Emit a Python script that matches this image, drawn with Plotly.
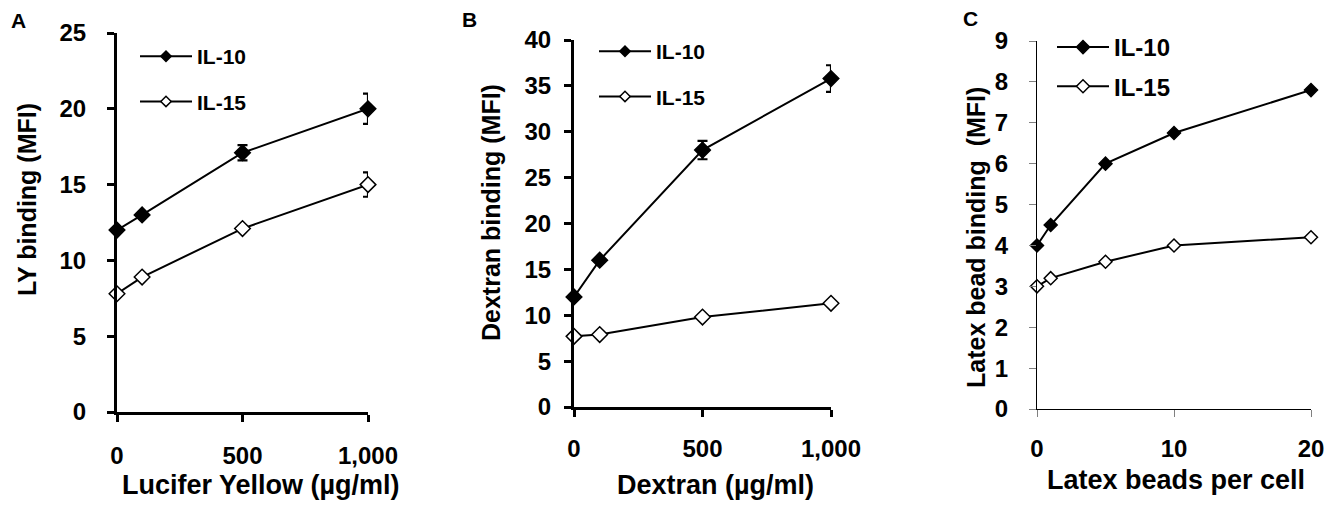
import plotly.graph_objects as go

# page is 1337x505; the figure div sits 8px in from the top-left (body margin)
PAGE_W, PAGE_H = 1337, 505
OFF = 8
W, H = PAGE_W - OFF, PAGE_H - OFF

# ---- data ----
a_x = [0, 100, 500, 1000]
a_il10 = [12.0, 13.0, 17.1, 20.0]
a_il10_err = [0.0, 0.0, 0.5, 1.0]
a_il15 = [7.8, 8.9, 12.1, 15.0]
a_il15_err = [0.0, 0.0, 0.0, 0.8]

b_x = [0, 100, 500, 1000]
b_il10 = [12.0, 16.0, 28.0, 35.8]
b_il10_err = [0.0, 0.0, 1.0, 1.45]
b_il15 = [7.7, 7.9, 9.8, 11.3]
b_il15_err = [0.0, 0.0, 0.0, 0.0]

c_x = [0, 1, 5, 10, 20]
c_il10 = [4.0, 4.5, 6.0, 6.75, 7.8]
c_il15 = [3.0, 3.2, 3.6, 4.0, 4.2]

series_names = ["IL-10", "IL-15"]
a_xticks = [0, 500, 1000]
a_yticks = [0, 5, 10, 15, 20, 25]
b_xticks = [0, 500, 1000]
b_yticks = [0, 5, 10, 15, 20, 25, 30, 35, 40]
c_xticks = [0, 10, 20]
c_yticks = [0, 1, 2, 3, 4, 5, 6, 7, 8, 9]

FONT = "Arial, Liberation Sans, sans-serif"


def px_x(p):
    return (p - OFF) / W


def px_y(p):
    return 1 - (p - OFF) / H


fig = go.Figure()


def marker(filled, size):
    return dict(symbol="diamond", size=size,
                color="black" if filled else "white",
                line=dict(color="black", width=1.5))


def add_series(xs, ys, errs, name, filled, xa, ya, legend, size, legend_size):
    # data trace (legend entry drawn by a proxy so its marker can be smaller)
    fig.add_trace(go.Scatter(
        x=xs, y=ys, name=name, mode="lines+markers",
        xaxis=xa, yaxis=ya, showlegend=False,
        line=dict(color="black", width=2),
        marker=marker(filled, size),
        error_y=None if errs is None else dict(
            type="data", array=errs, visible=True, color="black",
            thickness=2.2, width=5),
        cliponaxis=False,
    ))
    fig.add_trace(go.Scatter(
        x=[None], y=[None], name=name, mode="lines+markers",
        xaxis=xa, yaxis=ya, legend=legend, legendgroup=legend + name,
        line=dict(color="black", width=2),
        marker=marker(filled, legend_size),
    ))


add_series(a_x, a_il10, a_il10_err, series_names[0], True, "x", "y", "legend", 12, 8)
add_series(a_x, a_il15, a_il15_err, series_names[1], False, "x", "y", "legend", 12, 8)
add_series(b_x, b_il10, b_il10_err, series_names[0], True, "x2", "y2", "legend2", 12, 8)
add_series(b_x, b_il15, b_il15_err, series_names[1], False, "x2", "y2", "legend2", 12, 8)
add_series(c_x, c_il10, None, series_names[0], True, "x3", "y3", "legend3", 10, 10)
add_series(c_x, c_il15, None, series_names[1], False, "x3", "y3", "legend3", 10, 10)

tickfont = dict(family=FONT, size=24, color="black", weight="bold")


def xaxis(d0, d1, rng, ticks, anchor, lw, tickcolor, standoff):
    return dict(domain=[px_x(d0), px_x(d1)], range=rng, tickvals=ticks,
                tickformat=",", anchor=anchor, showline=True, linewidth=lw,
                linecolor="black", ticks="outside", ticklen=7, tickwidth=lw,
                tickcolor=tickcolor, showgrid=False, zeroline=False,
                automargin=False,
                tickfont=tickfont, ticklabelstandoff=standoff, fixedrange=True)


def yaxis(d0, d1, rng, ticks, anchor, lw, tickcolor, standoff):
    return dict(domain=[px_y(d0), px_y(d1)], range=rng, tickvals=ticks,
                anchor=anchor, showline=True, linewidth=lw,
                linecolor="black", ticks="outside", ticklen=7, tickwidth=lw,
                tickcolor=tickcolor, showgrid=False, zeroline=False,
                automargin=False,
                tickfont=tickfont, ticklabelstandoff=standoff, fixedrange=True)


legend_common = dict(
    font=dict(family=FONT, size=21, color="black", weight="bold"),
    bgcolor="rgba(0,0,0,0)", borderwidth=0, xanchor="left", yanchor="top",
    tracegroupgap=15, traceorder="grouped", itemwidth=52,
)

fig.update_layout(
    template="none",
    width=W, height=H,
    margin=dict(l=0, r=0, t=0, b=0, pad=0, autoexpand=False),
    paper_bgcolor="white", plot_bgcolor="white",
    showlegend=True,
    xaxis=xaxis(117, 368, [0, 1000], a_xticks, "y", 3, "black", 13),
    yaxis=yaxis(412, 33, [0, 25], a_yticks, "x", 3, "black", 16),
    xaxis2=xaxis(574, 831, [0, 1000], b_xticks, "y2", 3, "black", 11),
    yaxis2=yaxis(407, 40, [0, 40], b_yticks, "x2", 3, "black", 8),
    xaxis3=xaxis(1037, 1311, [0, 20], c_xticks, "y3", 1, "#808080", 11),
    yaxis3=yaxis(409, 41, [0, 9], c_yticks, "x3", 1, "#808080", 16),
    legend=dict(x=px_x(135), y=px_y(36), **legend_common),
    legend2=dict(x=px_x(594), y=px_y(31), **legend_common),
    legend3=dict(x=px_x(1052), y=px_y(25),
                 **{**legend_common,
                    "font": dict(family=FONT, size=24, color="black", weight="bold"),
                    "tracegroupgap": 5}),
)

xtitlefont = dict(family=FONT, size=27, color="black", weight="bold")
ytitlefont = dict(family=FONT, size=25, color="black", weight="bold")
annots = [
    dict(x=px_x(18), y=px_y(21), text="A"),
    dict(x=px_x(469), y=px_y(19), text="B"),
    dict(x=px_x(970), y=px_y(18), text="C"),
]
for a in annots:
    a.update(xref="paper", yref="paper", showarrow=False,
             xanchor="center", yanchor="middle",
             font=dict(family=FONT, size=21, color="black", weight="bold"))
    fig.add_annotation(**a)

titles = [
    dict(x=px_x(261), y=px_y(485), text="Lucifer Yellow (µg/ml)", textangle=0, font=xtitlefont),
    dict(x=px_x(716), y=px_y(485), text="Dextran (µg/ml)", textangle=0, font=xtitlefont),
    dict(x=px_x(1176), y=px_y(480), text="Latex beads per cell", textangle=0, font=xtitlefont),
    dict(x=px_x(27), y=px_y(200), text="LY binding (MFI)", textangle=-90, font=ytitlefont),
    dict(x=px_x(491), y=px_y(212), text="Dextran binding (MFI)", textangle=-90, font=ytitlefont),
    dict(x=px_x(976), y=px_y(238), text="Latex bead binding&nbsp;&nbsp;(MFI)", textangle=-90, font=ytitlefont),
]
for t in titles:
    t.update(xref="paper", yref="paper", showarrow=False,
             xanchor="center", yanchor="middle")
    fig.add_annotation(**t)

fig.write_html("out.html")
